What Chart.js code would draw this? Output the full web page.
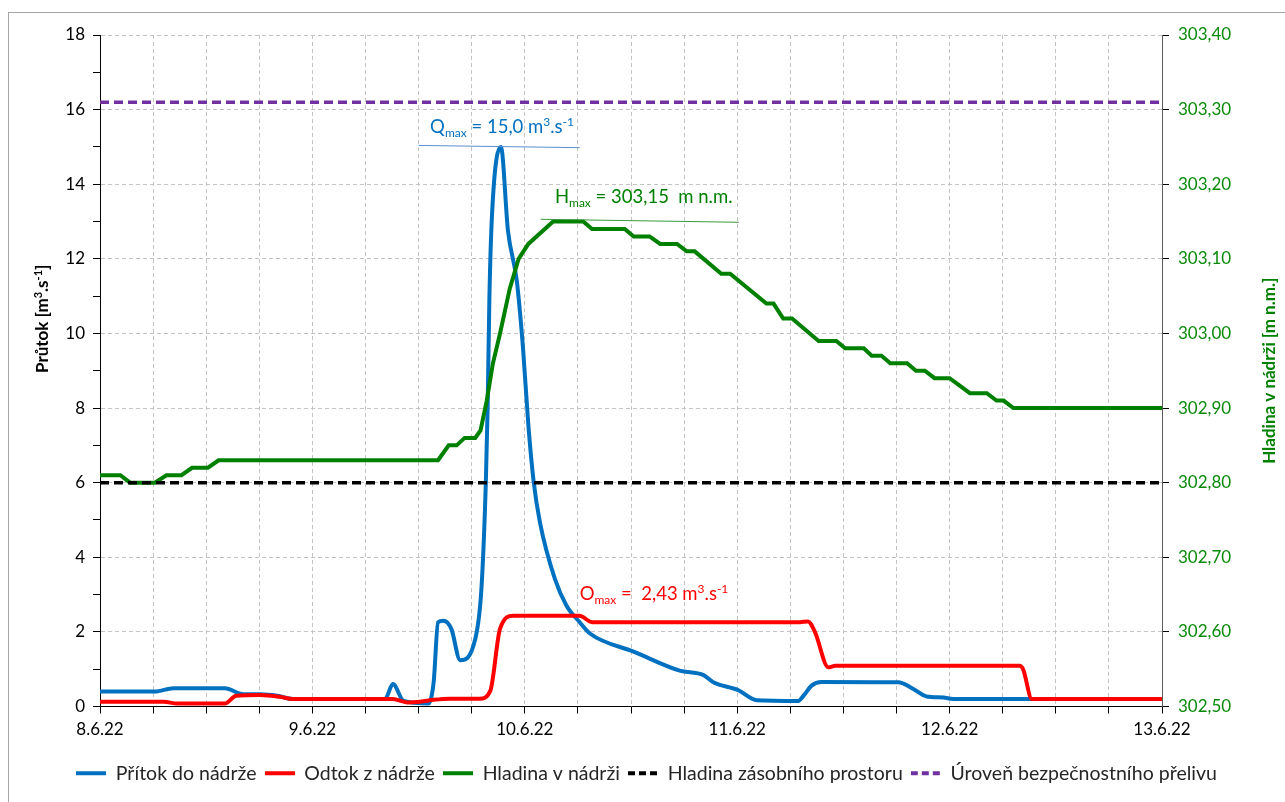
<!DOCTYPE html>
<html>
<head>
<meta charset="utf-8">
<script src="https://cdn.jsdelivr.net/npm/chart.js@4.4.1/dist/chart.umd.min.js"></script>
<style>
  html, body { margin: 0; padding: 0; background: #fff; }
  #wrap { width: 1285px; height: 802px; }
</style>
</head>
<body>
<div id="wrap"><canvas id="chart" width="1285" height="802"></canvas></div>
<script>
// x values are hours since 8.6.22 00:00
const dayLabels = ['8.6.22', '9.6.22', '10.6.22', '11.6.22', '12.6.22', '13.6.22'];

const inflowX = [0, 6.2, 8.3, 14.1, 16.2, 18.1, 20.0, 21.8, 32.2, 33.1, 34.3, 37.1, 37.7, 38.2, 38.8, 39.7, 40.7, 42.4, 43.1, 43.6, 43.8, 44.0, 44.3, 45.3, 46.1, 47.1, 47.8, 48.4, 49.0, 49.7, 51.4, 52.7, 54.2, 55.4, 60.3, 65.5, 68.2, 69.3, 72.1, 74.2, 78.9, 79.5, 80.4, 81.5, 90.2, 91.9, 93.4, 95.3, 96.4, 120];
const inflowY = [0.40, 0.40, 0.49, 0.49, 0.33, 0.33, 0.29, 0.20, 0.20, 0.60, 0.15, 0.08, 0.65, 2.26, 2.30, 2.08, 1.24, 1.81, 3.16, 6.03, 8.0, 10.96, 13.2, 15.0, 12.75, 11.4, 9.6, 7.55, 6.03, 4.95, 3.42, 2.71, 2.26, 1.95, 1.47, 0.96, 0.84, 0.65, 0.44, 0.17, 0.15, 0.29, 0.56, 0.66, 0.65, 0.47, 0.27, 0.24, 0.20, 0.20];

const outflowX = [0, 7.2, 8.7, 14.1, 15.4, 18.1, 20.3, 21.8, 33.1, 34.7, 36.2, 37.7, 39.5, 42.9, 44.1, 45.2, 46.7, 54.2, 55.6, 79.1, 80.0, 80.8, 82.3, 83.1, 103.9, 104.3, 105.3, 105.9, 120];
const outflowY = [0.13, 0.13, 0.08, 0.08, 0.29, 0.31, 0.26, 0.20, 0.20, 0.11, 0.13, 0.18, 0.21, 0.21, 0.42, 2.08, 2.43, 2.43, 2.26, 2.26, 2.28, 1.99, 1.05, 1.09, 1.09, 1.00, 0.20, 0.20, 0.20];

const levelX = [0, 2.3, 3.4, 6.2, 7.5, 9.2, 10.4, 12.2, 13.4, 38.2, 39.4, 40.3, 41.2, 42.4, 43.0, 43.7, 44.4, 45.2, 46.3, 47.3, 48.4, 51.2, 54.6, 55.6, 59.3, 60.3, 62.1, 63.3, 65.2, 66.3, 67.2, 70.2, 71.2, 75.3, 76.1, 77.2, 78.2, 81.2, 83.2, 84.2, 86.3, 87.2, 88.3, 89.3, 91.2, 92.2, 93.2, 94.3, 96.0, 98.3, 100.2, 101.3, 102.1, 103.2, 120];
const levelY = [302.81, 302.81, 302.80, 302.80, 302.81, 302.81, 302.82, 302.82, 302.83, 302.83, 302.85, 302.85, 302.86, 302.86, 302.87, 302.91, 302.96, 303.00, 303.06, 303.10, 303.12, 303.15, 303.15, 303.14, 303.14, 303.13, 303.13, 303.12, 303.12, 303.11, 303.11, 303.08, 303.08, 303.04, 303.04, 303.02, 303.02, 302.99, 302.99, 302.98, 302.98, 302.97, 302.97, 302.96, 302.96, 302.95, 302.95, 302.94, 302.94, 302.92, 302.92, 302.91, 302.91, 302.90, 302.90];

const storageLevel = 302.80;
const spillwayLevel = 303.31;

// max marker lines (x in hours, y in axis units)
const qMaxLineX = [36.0, 54.2];
const qMaxLineY = [15.04, 14.98];
const hMaxLineX = [49.8, 72.2];
const hMaxLineY = [303.153, 303.149];

const FONT = 'Lato, "Open Sans", sans-serif';
const GREEN = '#008000';
const GREEN_TXT = '#0a8a0a';

const pts = (xs, ys) => xs.map((x, i) => ({ x, y: ys[i] }));

// little line icons for the legend (so dashes show)
function legendIcon(color, dash) {
  const c = document.createElement('canvas');
  c.width = 30; c.height = 6;
  const g = c.getContext('2d');
  g.strokeStyle = color;
  g.lineWidth = 4;
  g.setLineDash(dash);
  g.beginPath();
  g.moveTo(0, 3); g.lineTo(30, 3);
  g.stroke();
  return c;
}

// rich text with sub/superscripts
function drawRich(ctx, x, y, parts, color, size, bold) {
  ctx.save();
  ctx.fillStyle = color;
  ctx.textAlign = 'left';
  ctx.textBaseline = 'alphabetic';
  for (const [t, kind] of parts) {
    const fs = kind === 'n' ? size : Math.round(size * 0.66);
    const dy = kind === 'sub' ? size * 0.22 : kind === 'sup' ? -size * 0.38 : 0;
    ctx.font = (bold ? 'bold ' : '') + fs + 'px ' + FONT;
    ctx.fillText(t, x, y + dy);
    x += ctx.measureText(t).width;
  }
  ctx.restore();
}

const labels = [
  { x: 37.3, y: 15.38, axis: 'y', color: '#0070C0', parts: [['Q', 'n'], ['max', 'sub'], [' = 15,0 m', 'n'], ['3', 'sup'], ['.s', 'n'], ['-1', 'sup']] },
  { x: 51.4, y: 303.175, axis: 'y1', color: GREEN, parts: [['H', 'n'], ['max', 'sub'], [' = 303,15  m n.m.', 'n']] },
  { x: 54.2, y: 2.86, axis: 'y', color: '#FF0000', parts: [['O', 'n'], ['max', 'sub'], [' =  2,43 m', 'n'], ['3', 'sup'], ['.s', 'n'], ['-1', 'sup']] }
];

const extras = {
  id: 'extras',
  beforeDraw(chart) {
    const ctx = chart.ctx;
    ctx.save();
    ctx.fillStyle = '#fff';
    ctx.fillRect(0, 0, chart.width, chart.height);
    ctx.strokeStyle = '#a6a6a6';
    ctx.lineWidth = 1;
    ctx.strokeRect(8.5, 12.5, 1300, 820);
    ctx.restore();
  },
  afterDraw(chart) {
    const ctx = chart.ctx;
    const { x } = chart.scales;
    labels.forEach(l => {
      drawRich(ctx, x.getPixelForValue(l.x), chart.scales[l.axis].getPixelForValue(l.y), l.parts, l.color, 18.5);
    });
    const a = chart.chartArea;
    // left axis title
    ctx.save();
    ctx.translate(42, 316);
    ctx.rotate(-Math.PI / 2);
    drawRich(ctx, -57, 6, [['Průtok [m', 'n'], ['3', 'sup'], ['.s', 'n'], ['-1', 'sup'], [']', 'n']], '#000', 17, true);
    ctx.restore();
    // right axis title, reading bottom to top
    ctx.save();
    ctx.translate(1270, (a.top + a.bottom) / 2);
    ctx.rotate(-Math.PI / 2);
    ctx.fillStyle = GREEN;
    ctx.font = 'bold 17px ' + FONT;
    ctx.textAlign = 'center';
    ctx.textBaseline = 'middle';
    ctx.fillText('Hladina v nádrži [m n.m.]', 0, 0);
    ctx.restore();
  }
};

new Chart(document.getElementById('chart'), {
  type: 'line',
  data: {
    datasets: [
      { label: 'Přítok do nádrže', data: pts(inflowX, inflowY), yAxisID: 'y', borderColor: '#0070C0', backgroundColor: '#0070C0', borderWidth: 4, pointRadius: 0, pointStyle: legendIcon('#0070C0', []), cubicInterpolationMode: 'monotone', order: 5 },
      { label: 'Odtok z nádrže', data: pts(outflowX, outflowY), yAxisID: 'y', borderColor: '#FF0000', backgroundColor: '#FF0000', borderWidth: 4, pointRadius: 0, pointStyle: legendIcon('#FF0000', []), cubicInterpolationMode: 'monotone', order: 4 },
      { label: 'Hladina v nádrži', data: pts(levelX, levelY), yAxisID: 'y1', borderColor: GREEN, backgroundColor: GREEN, borderWidth: 4, pointRadius: 0, pointStyle: legendIcon(GREEN, []), tension: 0, order: 3 },
      { label: 'Hladina zásobního prostoru', data: pts([0, 120], [storageLevel, storageLevel]), yAxisID: 'y1', borderColor: '#000', backgroundColor: '#000', borderWidth: 3.5, borderDash: [9, 5], pointRadius: 0, pointStyle: legendIcon('#000', [7, 4]), order: 2 },
      { label: 'Úroveň bezpečnostního přelivu', data: pts([0, 120], [spillwayLevel, spillwayLevel]), yAxisID: 'y1', borderColor: '#7030A0', backgroundColor: '#7030A0', borderWidth: 3.5, borderDash: [9, 5], pointRadius: 0, pointStyle: legendIcon('#7030A0', [7, 4]), order: 1 },
      { label: 'qmax', data: pts(qMaxLineX, qMaxLineY), yAxisID: 'y', borderColor: '#5b8fcf', borderWidth: 1, pointRadius: 0, order: 0 },
      { label: 'hmax', data: pts(hMaxLineX, hMaxLineY), yAxisID: 'y1', borderColor: '#3a9a3a', borderWidth: 1, pointRadius: 0, order: 0 }
    ]
  },
  options: {
    responsive: false,
    animation: false,
    layout: { padding: { left: 8, top: 35, right: 0, bottom: 9 } },
    plugins: {
      tooltip: { enabled: false },
      legend: {
        position: 'bottom',
        labels: {
          usePointStyle: true,
          pointStyleWidth: 30,
          color: '#262626',
          font: { family: FONT, size: 19.5 },
          padding: 8,
          filter: item => item.datasetIndex < 5,
          sort: (a, b) => a.datasetIndex - b.datasetIndex
        }
      }
    },
    scales: {
      x: {
        type: 'linear', min: 0, max: 120,
        ticks: {
          stepSize: 6, autoSkip: false, maxRotation: 0, color: '#000', padding: 6,
          font: { family: FONT, size: 17 },
          callback: v => (v % 24 === 0 ? dayLabels[v / 24] : '')
        },
        grid: { color: '#c4c4c4', tickColor: '#000', tickLength: 7 },
        border: { color: '#000', width: 1, dash: [4, 3] },
        afterFit: s => { s.height = 49; }
      },
      y: {
        position: 'left', min: 0, max: 18,
        ticks: {
          stepSize: 1, autoSkip: false, color: '#000', padding: 8,
          font: { family: FONT, size: 17 },
          callback: v => (v % 2 === 0 ? String(v) : '')
        },
        grid: {
          color: c => (c.tick && c.tick.value % 2 === 0 ? '#c4c4c4' : 'rgba(0,0,0,0)'),
          tickColor: '#000', tickLength: 7
        },
        border: { color: '#000', width: 1, dash: [4, 3] },
        afterFit: s => { s.width = 92; }
      },
      y1: {
        position: 'right', min: 302.5, max: 303.4,
        ticks: {
          stepSize: 0.1, autoSkip: false, color: GREEN_TXT, padding: 9,
          font: { family: FONT, size: 17 },
          callback: v => v.toFixed(2).replace('.', ',')
        },
        grid: { drawOnChartArea: false, tickColor: '#000', tickLength: 7 },
        border: { color: '#595959', width: 1 },
        afterFit: s => { s.width = 123; }
      }
    }
  },
  plugins: [extras]
});
</script>
</body>
</html>
